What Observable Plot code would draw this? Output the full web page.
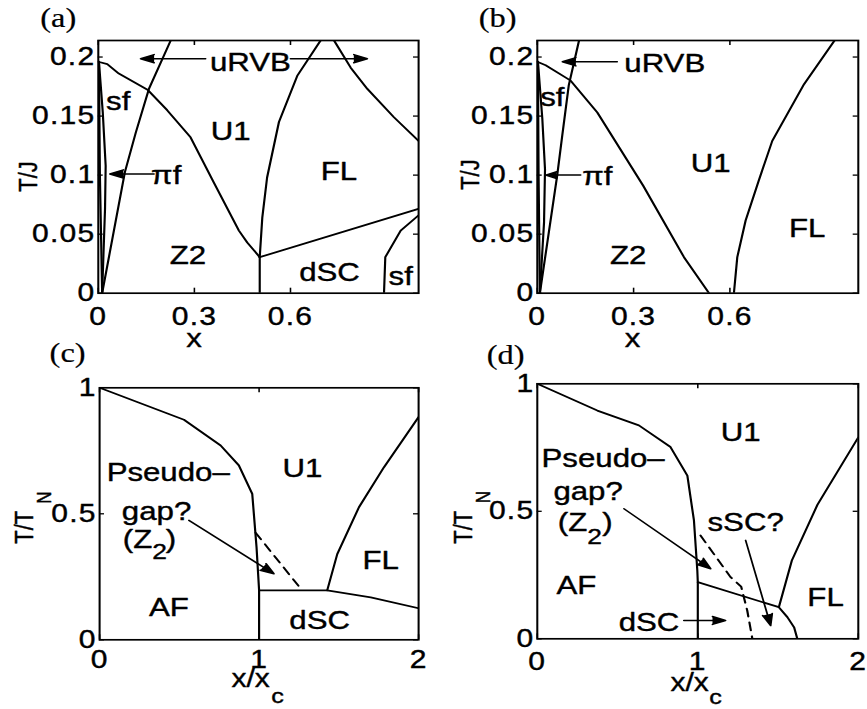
<!DOCTYPE html>
<html><head><meta charset="utf-8">
<script src="https://cdn.jsdelivr.net/npm/d3@7"></script>
<script src="https://cdn.jsdelivr.net/npm/@observablehq/plot@0.6"></script>
<style>
html,body{margin:0;padding:0;background:#fff;}
#chart{position:relative;width:867px;height:709px;overflow:hidden;background:#fff;}
</style></head><body><div id="chart"></div>
<script>
// ---------- Panel (a): T/J vs x ----------
const aTicksX = [0, 0.3, 0.6];
const aTicksY = [0, 0.05, 0.1, 0.15, 0.2];
const aU1Z2 = [[0,0.196],[0.028,0.194],[0.064,0.186],[0.155,0.172],[0.215,0.155],[0.288,0.132],[0.36,0.094],[0.439,0.053],[0.465,0.043],[0.504,0.0305]];
const aRVB = [[0.012,0],[0.083,0.1025],[0.117,0.136],[0.158,0.173],[0.226,0.214]];
const aSfEdge = [[0.002,0.196],[0.005,0.1],[0.012,0]];
const aPiF = [[0.002,0.196],[0.014,0.153],[0.023,0.108],[0.021,0.0715],[0.012,0]];
const aFLLeft = [[0.504,0.0305],[0.512,0.064],[0.527,0.098],[0.564,0.145],[0.621,0.184],[0.694,0.214]];
const aFLRight = [[0.736,0.214],[0.788,0.191],[0.84,0.173],[0.923,0.149],[1,0.129]];
const aDSC = [[0.504,0.0305],[1,0.0715]];
const aDSCEdge = [[0.504,0],[0.504,0.0305]];
const aSf2 = [[0.892,0],[0.896,0.0305],[0.944,0.053],[1,0.066]];
const aArrows = [{x1:0.335,y1:0.1986,x2:0.132,y2:0.1986},{x1:0.6,y1:0.1986,x2:0.84,y2:0.1986},{x1:0.174,y1:0.101,x2:0.036,y2:0.101}];
const aLabels = [{t:"uRVB",x:0.475,y:0.1952},{t:"sf",x:0.062,y:0.1619},{t:"U1",x:0.413,y:0.1364},{t:"πf",x:0.212,y:0.0997},{t:"FL",x:0.751,y:0.1025},{t:"Z2",x:0.28,y:0.0319},{t:"dSC",x:0.722,y:0.0178},{t:"sf",x:0.944,y:0.0136}];

// ---------- Panel (b): T/J vs x ----------
const bTicksX = [0, 0.3, 0.6];
const bTicksY = [0, 0.05, 0.1, 0.15, 0.2];
const bU1Z2 = [[0,0.196],[0.026,0.193],[0.104,0.18],[0.187,0.153],[0.33,0.091],[0.457,0.0305],[0.535,0]];
const bRVB = [[0.008,0],[0.062,0.0997],[0.078,0.134],[0.098,0.176],[0.13,0.214]];
const bSfEdge = [[0.002,0.196],[0.004,0.1],[0.008,0]];
const bPiF = [[0.002,0.196],[0.0156,0.148],[0.024,0.105],[0.021,0.06],[0.008,0]];
const bFL = [[0.6125,0],[0.623,0.0305],[0.649,0.0616],[0.69,0.0955],[0.732,0.129],[0.831,0.177],[0.926,0.214]];
const bArrows = [{x1:0.249,y1:0.196,x2:0.078,y2:0.196},{x1:0.135,y1:0.1,x2:0.026,y2:0.1}];
const bLabels = [{t:"uRVB",x:0.397,y:0.1943},{t:"sf",x:0.047,y:0.166},{t:"U1",x:0.54,y:0.1096},{t:"πf",x:0.187,y:0.0983},{t:"Z2",x:0.283,y:0.0319},{t:"FL",x:0.841,y:0.0545}];

// ---------- Panel (c): T/T_N vs x/x_c ----------
const cTicksX = [0, 1, 2];
const cTicksY = [0, 0.5, 1];
const cAF = [[0,1],[0.529,0.873],[0.759,0.771],[0.873,0.692],[0.957,0.579],[0.984,0.367],[1,0.196],[1,0]];
const cDSCTop = [[1,0.196],[1.427,0.196],[1.7,0.168],[2,0.125]];
const cFL = [[1.427,0.196],[1.49,0.34],[1.626,0.526],[1.783,0.685],[2,0.884]];
const cDash = [[0.978,0.425],[1.27,0.196]];
const cArrows = [{x1:0.56,y1:0.474,x2:1.093,y2:0.262}];
const cLabels = [{t:"Pseudo–",x:0.43,y:0.665},{t:"gap?",x:0.357,y:0.509},{t:"U1",x:1.271,y:0.678},{t:"FL",x:1.762,y:0.315},{t:"AF",x:0.434,y:0.129},{t:"dSC",x:1.38,y:0.0766}];
const cZ2 = [{t:"(Z",x:0.33,y:0.398},{t:"2",x:0.33,y:0.349},{t:")",x:0.414,y:0.398}];

// ---------- Panel (d): T/T_N vs x/x_c ----------
const dTicksX = [0, 1, 2];
const dTicksY = [0, 0.5, 1];
const dAF = [[0,1],[0.374,0.895],[0.633,0.837],[0.83,0.752],[0.935,0.64],[0.976,0.464],[0.997,0.268],[1,0.222],[1,0]];
const dDSCTop = [[1,0.222],[1.505,0.124],[1.558,0.085],[1.6,0.045],[1.62,0]];
const dFL = [[1.505,0.124],[1.586,0.307],[1.745,0.525],[2,0.79]];
const dDash = [[1.017,0.405],[1.204,0.242],[1.27,0.205],[1.308,0.111],[1.34,0]];
const dArrows = [{x1:0.54,y1:0.51,x2:1.08,y2:0.275},{x1:1.298,y1:0.386,x2:1.454,y2:0.052},{x1:0.913,y1:0.072,x2:1.173,y2:0.072}];
const dLabels = [{t:"Pseudo–",x:0.41,y:0.7055},{t:"gap?",x:0.3165,y:0.578},{t:"U1",x:1.267,y:0.81},{t:"sSC?",x:1.298,y:0.457},{t:"AF",x:0.244,y:0.209},{t:"FL",x:1.796,y:0.163}];
const dDSCLabel = [{t:"dSC",x:0.885,y:0.065}];
const dZ2 = [{t:"(Z",x:0.3115,y:0.457},{t:"2",x:0.3115,y:0.40},{t:")",x:0.405,y:0.457}];

// ---------- drawing ----------
const FONT = "'Liberation Sans', Arial, Helvetica, sans-serif";
const SERIF = "'Liberation Serif', 'Times New Roman', serif";
const S = 1.2; // horizontal stretch of the printed figure

const line = (data, extra = {}) => Plot.line(data, {x: d => d[0], y: d => d[1], stroke: "black", strokeWidth: 1.8, clip: true, ...extra});
const arrows = (data) => Plot.arrow(data, {x1: "x1", y1: "y1", x2: "x2", y2: "y2", stroke: "black", fill: "black", strokeWidth: 1.5, headLength: 12, headAngle: 40});
const labels = (data, extra = {}) => Plot.text(data, {x: "x", y: "y", text: "t", fontSize: 26, fill: "black", stroke: "black", strokeWidth: 0.4, ...extra});
const note = (text, frameAnchor, dxScreen, dy, extra = {}) => Plot.text([text], {text: d => d, frameAnchor, textAnchor: "middle", lineAnchor: "middle", dx: dxScreen / S, dy, fontSize: 26, fill: "black", stroke: "black", strokeWidth: 0.4, ...extra});

function panel(cfg) {
  const {left, top, W, H, mL, mR, mT, mB, xDomain, yDomain, xTicks, yTicks, xPad, marks} = cfg;
  const iw = (W - mL - mR) / S, ih = H - mT - mB, tk = 5;
  const svg = Plot.plot({
    width: W / S, height: H,
    marginLeft: mL / S, marginRight: mR / S, marginTop: mT, marginBottom: mB,
    x: {domain: xDomain}, y: {domain: yDomain},
    style: {fontFamily: FONT, fontSize: "25px", color: "black", background: "transparent", overflow: "visible"},
    marks: [
      Plot.tickY(yTicks, {y: d => d, insetRight: iw - tk / S, strokeWidth: 1.3}),
      Plot.tickY(yTicks, {y: d => d, insetLeft: iw - tk / S, strokeWidth: 1.3}),
      Plot.tickX(xTicks, {x: d => d, insetTop: ih - tk, strokeWidth: 1.3}),
      Plot.tickX(xTicks, {x: d => d, insetBottom: ih - tk, strokeWidth: 1.3}),
      Plot.axisX(xTicks, {tickSize: 0, tickPadding: xPad, label: null, tickFormat: d => String(d), fontSize: 25}),
      Plot.axisY(yTicks, {tickSize: 0, tickPadding: 3 / S, label: null, tickFormat: d => String(d), fontSize: 25}),
      ...marks,
      Plot.frame({stroke: "black", strokeWidth: 1.7})
    ]
  });
  svg.querySelectorAll('g[aria-label$="tick label"] text').forEach(t => {
    t.setAttribute("letter-spacing", "1");
    t.setAttribute("stroke", "black");
    t.setAttribute("stroke-width", "0.4");
  });
  svg.setAttribute("width", W);
  svg.setAttribute("height", H);
  svg.setAttribute("preserveAspectRatio", "none");
  Object.assign(svg.style, {position: "absolute", left: left + "px", top: top + "px", width: W + "px", height: H + "px", maxWidth: "none", background: "transparent", overflow: "visible"});
  document.getElementById("chart").appendChild(svg);
}

// (a)
panel({left: 0, top: 0, W: 430, H: 360, mL: 97.7, mR: 12, mT: 40, mB: 67.3,
  xDomain: [0, 1], yDomain: [0, 0.214], xTicks: aTicksX, yTicks: aTicksY, xPad: 14.3,
  marks: [
    line(aU1Z2), line(aRVB), line(aSfEdge), line(aPiF), line(aFLLeft), line(aFLRight),
    line(aDSC), line(aDSCEdge), line(aSf2),
    arrows(aArrows), labels(aLabels),
    note("(a)", "top-left", -40, -21.7, {fontFamily: SERIF, fontSize: 27, strokeWidth: 0.2}),
    note("T/J", "left", -69.7, 9.6, {rotate: -90, fontSize: 22}),
    note("x", "bottom", -64.5, 45.8)
  ]});

// (b)
panel({left: 430, top: 0, W: 437, H: 360, mL: 106.7, mR: 9.3, mT: 40, mB: 67.3,
  xDomain: [0, 1], yDomain: [0, 0.214], xTicks: bTicksX, yTicks: bTicksY, xPad: 14.3,
  marks: [
    line(bU1Z2), line(bRVB), line(bSfEdge), line(bPiF), line(bFL),
    arrows(bArrows), labels(bLabels),
    note("(b)", "top-left", -39.7, -21.7, {fontFamily: SERIF, fontSize: 27, strokeWidth: 0.2}),
    note("T/J", "left", -66.7, 7.7, {rotate: -90, fontSize: 22}),
    note("x", "bottom", -65.2, 45.8)
  ]});

// (c)
panel({left: 0, top: 330, W: 430, H: 379, mL: 99, mR: 12, mT: 57.3, mB: 69.7,
  xDomain: [0, 2], yDomain: [0, 1], xTicks: cTicksX, yTicks: cTicksY, xPad: 10.7,
  marks: [
    line(cAF), line(cDSCTop), line(cFL), line(cDash, {strokeDasharray: "8,6"}),
    arrows(cArrows), labels(cLabels),
    labels([cZ2[0]], {textAnchor: "end"}),
    labels([cZ2[1]], {textAnchor: "start", fontSize: 22}),
    labels([cZ2[2]], {textAnchor: "start"}),
    note("(c)", "top-left", -32, -34, {fontFamily: SERIF, fontSize: 27, strokeWidth: 0.2}),
    note("T/T", "left", -75, 13.4, {rotate: -90, fontSize: 22}),
    note("N", "left", -55.5, -16.3, {rotate: -90, fontSize: 17}),
    note("x/x", "bottom", -8.5, 38.7, {fontSize: 25}),
    note("c", "bottom", 18.5, 56.4, {fontSize: 21})
  ]});

// (d)
panel({left: 430, top: 330, W: 437, H: 379, mL: 106.7, mR: 9.3, mT: 53.3, mB: 70.7,
  xDomain: [0, 2], yDomain: [0, 1], xTicks: dTicksX, yTicks: dTicksY, xPad: 13.4,
  marks: [
    line(dAF), line(dDSCTop), line(dFL), line(dDash, {strokeDasharray: "8,6"}),
    arrows(dArrows), labels(dLabels),
    labels(dDSCLabel, {textAnchor: "end"}),
    labels([dZ2[0]], {textAnchor: "end"}),
    labels([dZ2[1]], {textAnchor: "start", fontSize: 22}),
    labels([dZ2[2]], {textAnchor: "start"}),
    note("(d)", "top-left", -31.7, -28, {fontFamily: SERIF, fontSize: 27, strokeWidth: 0.2}),
    note("T/T", "left", -74.2, 15.9, {rotate: -90, fontSize: 22}),
    note("N", "left", -54.2, -14.1, {rotate: -90, fontSize: 17}),
    note("x/x", "bottom", -8.2, 44.4, {fontSize: 25}),
    note("c", "bottom", 17.8, 58.7, {fontSize: 21})
  ]});
</script></body></html>
